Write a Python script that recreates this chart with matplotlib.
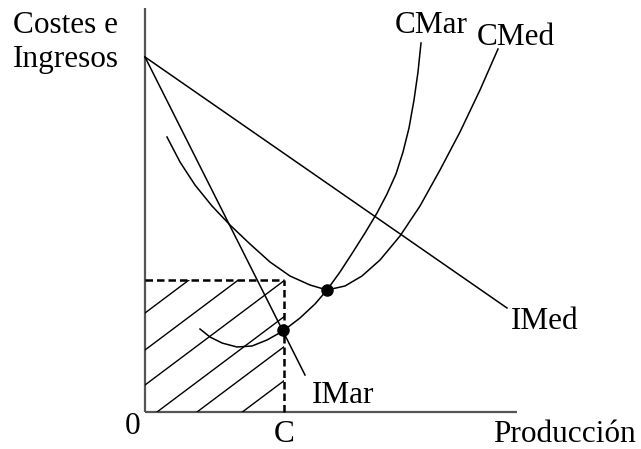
import matplotlib
matplotlib.use("Agg")
import matplotlib.pyplot as plt
from matplotlib.patches import Rectangle

plt.rcParams['font.family'] = ['Liberation Serif', 'DejaVu Serif']

# curves (x = produccion, y = coste/ingreso)
imed_x = [0, 362]
imed_y = [355, 104]

imar_x = [0, 160]
imar_y = [355, 37]

cmed_x = [22, 35, 50, 67, 85, 105, 125, 145, 165, 182, 200, 217, 235, 255, 275, 295, 315, 335, 353]
cmed_y = [275, 250, 227, 206, 187, 168, 150, 136, 127, 122, 126, 136, 152, 176, 206, 242, 280, 322, 363]

cmar_x = [55, 65, 77, 92, 107, 122, 138, 155, 170, 182, 195, 208, 220, 232, 242, 251, 258, 264, 269, 273, 276]
cmar_y = [83, 75, 69, 65, 66, 72, 81, 94, 108, 122, 140, 160, 179, 199, 218, 238, 260, 284, 312, 340, 369]

# equilibrium points
dots_x = [138, 182]
dots_y = [82, 122]

q_c = 139       # output C
p_c = 132       # average cost at C

hatch_slope = 0.75
hatch_offsets = [99, 62, 27, -9, -39, -73]

fig = plt.figure(figsize=(6.41, 4.49), dpi=100)
ax = fig.add_axes([0, 0, 1, 1])
ax.set_xlim(-145, 496)
ax.set_ylim(-37, 412)
ax.axis('off')

# axes
ax.plot([0, 0], [0, 404], color='#555555', lw=1.6, solid_capstyle='butt')
ax.plot([0, 372], [0, 0], color='#555555', lw=1.6, solid_capstyle='butt')

# hatched area (profits box)
box = Rectangle((0, 0), q_c, p_c, facecolor='none', edgecolor='none')
ax.add_patch(box)
for b in hatch_offsets:
    ln, = ax.plot([0, q_c], [b, b + hatch_slope * q_c], color='black', lw=1.0)
    ln.set_clip_path(box)

ax.plot([0, q_c], [p_c, p_c], color='black', lw=1.8, dashes=(3, 1.6))
ax.plot([q_c, q_c], [0, p_c], color='black', lw=1.8, dashes=(3, 1.6))

lw = 1.1
ax.plot(imed_x, imed_y, color='black', lw=lw)
ax.plot(imar_x, imar_y, color='black', lw=lw)
ax.plot(cmed_x, cmed_y, color='black', lw=lw)
ax.plot(cmar_x, cmar_y, color='black', lw=lw)
ax.plot(dots_x, dots_y, 'o', color='black', ms=8)

fs = 22.5
ax.text(-132, 379, 'Costes e', fontsize=fs, va='baseline')
ax.text(-132, 345, 'Ingresos', fontsize=fs, va='baseline')
ax.text(250, 379, 'CMar', fontsize=fs, va='baseline')
ax.text(332, 367, 'CMed', fontsize=fs, va='baseline')
ax.text(366, 83, 'IMed', fontsize=fs, va='baseline')
ax.text(167, 9, 'IMar', fontsize=fs, va='baseline')
ax.text(-20, -22, '0', fontsize=fs, va='baseline')
ax.text(q_c, -30, 'C', fontsize=fs, va='baseline', ha='center')
ax.text(348, -30, 'Producción', fontsize=fs, va='baseline')

fig.savefig('out.png', dpi=100)
